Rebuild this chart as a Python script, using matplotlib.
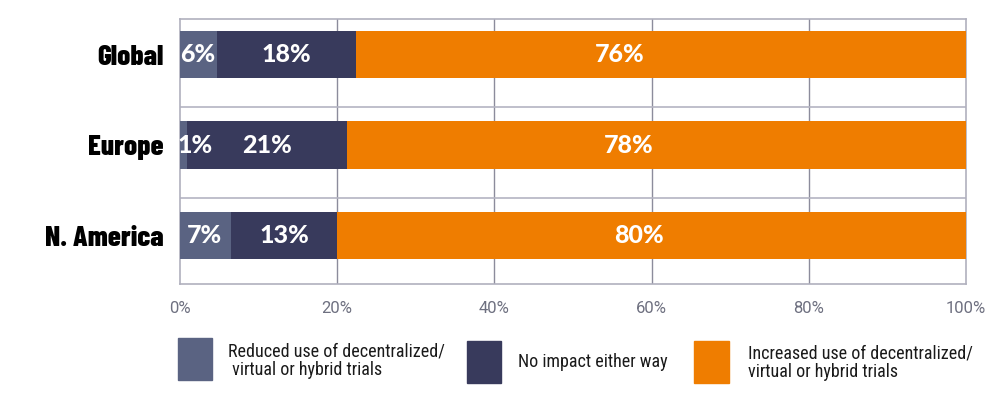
import matplotlib
matplotlib.use('Agg')
import matplotlib.pyplot as plt
from matplotlib.patches import Rectangle

# Data
regions = ['Global', 'Europe', 'N. America']
reduced = [4.7, 0.85, 6.5]
no_impact = [17.7, 20.35, 13.5]
increased = [77.6, 78.8, 80.0]

# printed labels (as shown in the chart)
reduced_labels = ['6%', '1%', '7%']
no_impact_labels = ['18%', '21%', '13%']
increased_labels = ['76%', '78%', '80%']
increased_label_x = [55.9, 57.1, 58.4]
reduced_label_x = [2.3, 1.9, 3.05]

series_names = ['Reduced use of decentralized/\n virtual or hybrid trials',
                'No impact either way',
                'Increased use of decentralized/\nvirtual or hybrid trials']
colors = ['#5a6382', '#383a5c', '#ef7d00']

xticks = [0, 20, 40, 60, 80, 100]
xtick_labels = ['0%', '20%', '40%', '60%', '80%', '100%']

cat_font = ['Barlow Condensed', 'DejaVu Sans']
val_font = ['Lato', 'DejaVu Sans']
tick_font = ['Roboto', 'DejaVu Sans']
leg_font = ['Roboto Condensed', 'Roboto', 'DejaVu Sans']

fig = plt.figure(figsize=(10.05, 3.98), dpi=100)
ax = fig.add_axes([0.1791, 0.2864, 0.7821, 0.6658])

y = list(range(len(regions)))
bar_h = 0.52

left2 = [a for a in reduced]
left3 = [a + b for a, b in zip(reduced, no_impact)]
ax.barh(y, reduced, height=bar_h, color=colors[0], zorder=3)
ax.barh(y, no_impact, left=left2, height=bar_h, color=colors[1], zorder=3)
ax.barh(y, increased, left=left3, height=bar_h, color=colors[2], zorder=3)

ax.set_xlim(0, 100)
ax.set_ylim(2.536, -0.392)

# grid
for xv in xticks[1:-1]:
    ax.axvline(xv, color='#8c8c9c', lw=1.0, zorder=1)
for i in range(len(regions) - 1):
    ax.axhline(i + 0.585, color='#b4b4c2', lw=1.2, zorder=1)
for s in ax.spines.values():
    s.set_color('#b0b0be')
    s.set_linewidth(1.2)

# value labels
lab_kw = dict(color='white', fontsize=18, fontweight='black', family=val_font,
              ha='center', va='center', zorder=4)
for i in y:
    ax.text(reduced_label_x[i], i, reduced_labels[i], **lab_kw)
    ax.text(reduced[i] + no_impact[i] / 2, i, no_impact_labels[i], **lab_kw)
    ax.text(increased_label_x[i], i, increased_labels[i], **lab_kw)

ax.set_yticks(y)
ax.set_yticklabels(regions, family=cat_font, fontsize=21, fontweight='heavy')
ax.set_xticks(xticks)
ax.set_xticklabels(xtick_labels, family=tick_font, fontsize=12, color='#6e7080')
ax.tick_params(axis='both', length=0)
ax.tick_params(axis='y', pad=12)
ax.tick_params(axis='x', pad=12)

# legend drawn as figure patches
W, H = 1005.0, 398.0
boxes = [(178, 338, 34, 42), (467, 341, 34, 42), (694, 341, 35, 42)]
text_x = [228, 518, 748]
text_y = [361, 362, 363]
for (bx, by, bw, bh), tx, ty, c, name in zip(boxes, text_x, text_y, colors, series_names):
    fig.patches.append(Rectangle((bx / W, 1 - (by + bh) / H), bw / W, bh / H,
                                 transform=fig.transFigure, color=c))
    fig.text(tx / W, 1 - ty / H, name, family=leg_font, fontsize=13,
             color='#1a1a1a', ha='left', va='center', linespacing=1.0)

fig.savefig('out.png', dpi=100)
